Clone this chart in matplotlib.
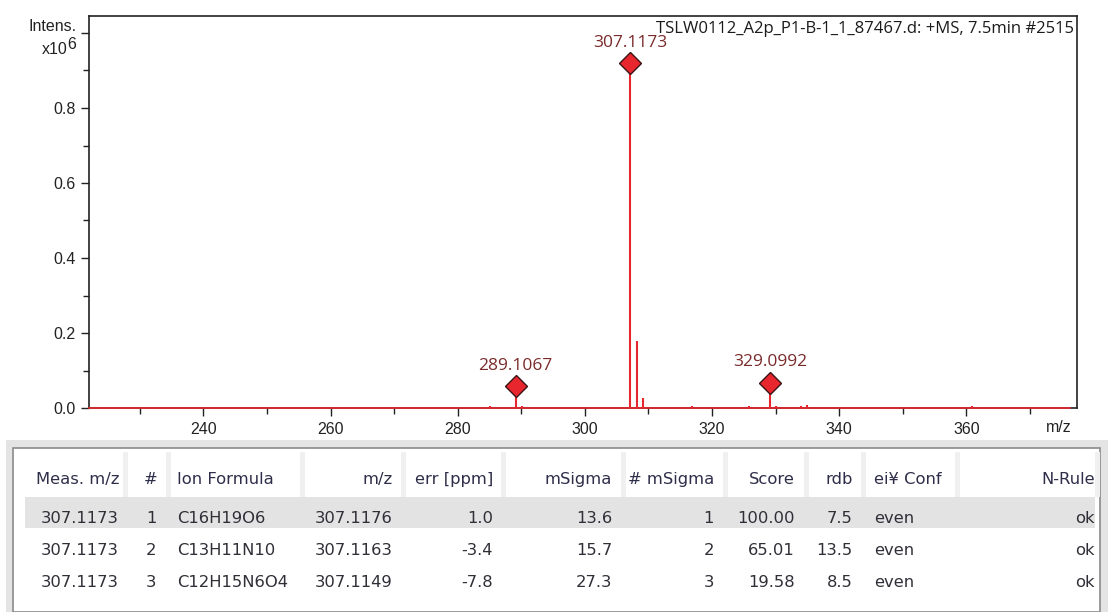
import matplotlib
matplotlib.use("Agg")
import matplotlib.pyplot as plt
from matplotlib.patches import Rectangle

# ---- spectrum data (intensity in units of 10^6 counts) ----
peak_mz = [285.0, 289.1067, 290.1, 307.1173, 308.12, 309.12, 316.8,
           325.8, 329.0992, 330.1, 333.9, 335.0, 360.8]
peak_intensity = [0.006, 0.059, 0.005, 0.919, 0.179, 0.027, 0.005,
                  0.005, 0.068, 0.006, 0.005, 0.009, 0.005]
labelled_mz = [289.1067, 307.1173, 329.0992]
labelled_text = ["289.1067", "307.1173", "329.0992"]
mz_range = (222.0, 376.2)

x_ticks = [240, 260, 280, 300, 320, 340, 360]
x_minor = [230, 250, 270, 290, 310, 330, 350, 370]
y_ticks = [0.0, 0.2, 0.4, 0.6, 0.8, 1.0]
y_tick_labels = ["0.0", "0.2", "0.4", "0.6", "0.8", ""]
y_minor = [0.1, 0.3, 0.5, 0.7, 0.9]

spectrum_title = "TSLW0112_A2p_P1-B-1_1_87467.d: +MS, 7.5min #2515"

# ---- formula table ----
headers = ["Meas. m/z", "#", "Ion Formula", "m/z", "err [ppm]", "mSigma",
           "# mSigma", "Score", "rdb", "ei\u00a5 Conf", "N-Rule"]
meas_mz = ["307.1173", "307.1173", "307.1173"]
rank = ["1", "2", "3"]
ion_formula = ["C16H19O6", "C13H11N10", "C12H15N6O4"]
calc_mz = ["307.1176", "307.1163", "307.1149"]
err_ppm = [1.0, -3.4, -7.8]
msigma = [13.6, 15.7, 27.3]
msigma_rank = [1, 2, 3]
score = [100.00, 65.01, 19.58]
rdb = [7.5, 13.5, 8.5]
e_conf = ["even", "even", "even"]
n_rule = ["ok", "ok", "ok"]

W, H = 1108, 612
DPI = 100
fig = plt.figure(figsize=(W / DPI, H / DPI), dpi=DPI)
fig.patch.set_facecolor("white")


def fx(px):
    return px / W


def fy(py):
    return 1 - py / H


# ---- spectrum axes ----
ax_l, ax_r, ax_t, ax_b = 88.5, 1077, 16, 408
ax = fig.add_axes([fx(ax_l), fy(ax_b), fx(ax_r - ax_l), (ax_b - ax_t) / H])
px_per_mz = 6.36
x0 = 240 - (203.3 - ax_l) / px_per_mz
x1 = 240 + (ax_r - 203.3) / px_per_mz
ax.set_xlim(x0, x1)
ax.set_ylim(0, (ax_b - ax_t) / 375.0)

red = "#e8262d"
ax.vlines(peak_mz, 0, peak_intensity, color=red, lw=1.5, zorder=3)
ax.plot(mz_range, [0, 0], color=red, lw=1.2, zorder=4, clip_on=False)

lab_int = [peak_intensity[peak_mz.index(m)] for m in labelled_mz]
ax.plot(labelled_mz, lab_int, linestyle="none", marker="D", markersize=11,
        markerfacecolor=red, markeredgecolor="#3a1414", markeredgewidth=1.0,
        zorder=5)
for m, v, t in zip(labelled_mz, lab_int, labelled_text):
    ax.annotate(t, (m, v), xytext=(0, 14.5), textcoords="offset points",
                ha="center", va="center", color="#7a2a2a",
                family="Open Sans", fontsize=12.5)

ax.text(0.997, 0.968, spectrum_title, transform=ax.transAxes, ha="right",
        va="center", family="Open Sans", fontsize=12, color="#1a1a1a")

for side in ["left", "right", "top", "bottom"]:
    ax.spines[side].set_color("#222222")
    ax.spines[side].set_linewidth(1.2)

ax.set_xticks(x_ticks)
ax.set_xticks(x_minor, minor=True)
ax.set_xticklabels([str(t) for t in x_ticks])
ax.set_yticks(y_ticks)
ax.set_yticks(y_minor, minor=True)
ax.set_yticklabels(y_tick_labels)
ax.tick_params(which="major", direction="out", length=6, width=1.0,
               color="#222222", labelsize=11.5, labelcolor="#222222")
ax.tick_params(which="minor", direction="out", length=4, width=1.0,
               color="#222222")
ax.tick_params(axis="x", which="major", pad=4)
ax.tick_params(axis="y", which="major", pad=3)
for lab in ax.get_xticklabels() + ax.get_yticklabels():
    lab.set_family("Liberation Sans")

ax.text(374.5, -0.052, "m/z", ha="center", va="center", transform=ax.transData,
        family="Liberation Sans", fontsize=11.5, color="#222222", clip_on=False)
fig.text(fx(77), fy(31), "Intens.", ha="right", va="baseline",
         family="Liberation Sans", fontsize=11.5, color="#222222")
fig.text(fx(67.5), fy(54), "x10", ha="right", va="baseline",
         family="Liberation Sans", fontsize=11.5, color="#222222")
fig.text(fx(67.5), fy(49), "6", ha="left", va="baseline",
         family="Liberation Sans", fontsize=11.5, color="#222222")

# ---- table panel ----
fig.add_artist(Rectangle((fx(6), fy(612)), fx(1102), (612 - 440) / H,
                         transform=fig.transFigure, facecolor="#e4e4e4",
                         edgecolor="none", zorder=0))
fig.add_artist(Rectangle((fx(13), fy(612)), fx(1087), (612 - 448) / H,
                         transform=fig.transFigure, facecolor="white",
                         edgecolor="#8a8a8a", lw=1.2, zorder=1))
# header column dividers
dividers = [125, 168, 302, 403, 503, 623, 725, 806, 863, 957, 1097]
for d in dividers:
    fig.add_artist(Rectangle((fx(d - 2), fy(497)), fx(5), (497 - 452) / H,
                             transform=fig.transFigure, facecolor="#f0f0f0",
                             edgecolor="none", zorder=2))
# selected row
fig.add_artist(Rectangle((fx(25), fy(528)), fx(1070), 31 / H,
                         transform=fig.transFigure, facecolor="#e3e3e3",
                         edgecolor="none", zorder=2))

# column anchors: (x position, alignment)
col_pos = [(119, "right"), (151, "center"), (177, "left"), (393, "right"),
           (493, "right"), (612, "right"), (714, "right"), (795, "right"),
           (853, "right"), (874, "left"), (1095, "right")]
header_color = "#2e2e4a"
cell_color = "#2f2f38"
tfont = "DejaVu Sans"
tsize = 11.8

for (x, ha), h in zip(col_pos, headers):
    fig.text(fx(x), fy(484), h, ha=ha, va="baseline", family=tfont,
             fontsize=tsize, color=header_color, zorder=3)

rows = []
for i in range(3):
    rows.append([meas_mz[i], rank[i], ion_formula[i], calc_mz[i],
                 f"{err_ppm[i]:.1f}", f"{msigma[i]:.1f}", str(msigma_rank[i]),
                 f"{score[i]:.2f}", f"{rdb[i]:.1f}", e_conf[i], n_rule[i]])
row_base = [523, 555, 587]
for yb, row in zip(row_base, rows):
    for (x, ha), val in zip(col_pos, row):
        fig.text(fx(x), fy(yb), val, ha=ha, va="baseline", family=tfont,
                 fontsize=tsize, color=cell_color, zorder=3)

fig.savefig("out.png", dpi=DPI)
